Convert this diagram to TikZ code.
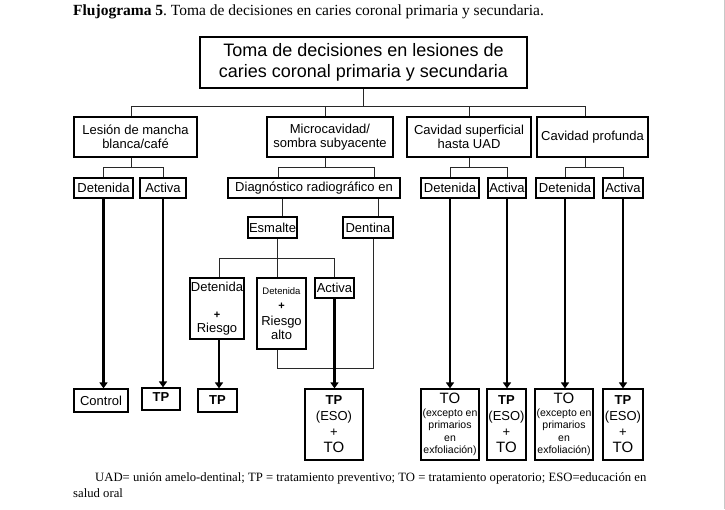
\documentclass[tikz,border=0pt]{standalone}
\usepackage{fontspec}
\setmainfont{Liberation Serif}
\setsansfont{Liberation Sans}
\usetikzlibrary{arrows.meta}
\definecolor{pagegray}{RGB}{200, 200, 200}
\definecolor{linegray}{RGB}{40, 40, 40}
\tikzset{
  caja/.style={draw, line width=1.2pt, inner sep=1pt, align=center,
    font=\sffamily\fontsize{13}{14}\selectfont},
  conector/.style={draw=linegray, line width=0.8pt},
  flecha/.style={line width=2.6pt, -{Triangle[width=8pt,length=6pt]}}
}
\frenchspacing

\begin{document}
\begin{tikzpicture}[x=1pt,y=-1pt]
  \useasboundingbox (0,0) rectangle (725,509);
  \draw[pagegray, line width=1pt] (724,0) -- (724,509);

  % caption
  \node[anchor=west, inner sep=0pt, font=\fontsize{15.5}{17}\selectfont] (leyenda) at (73,12)
    {\textbf{Flujograma 5}. Toma de decisiones en caries coronal primaria y secundaria.};

  % title
  \node[caja, line width=2.2pt, minimum width=327pt, minimum height=51pt,
    font=\sffamily\fontsize{18}{21}\selectfont] (titulo) at (363.5,62.5)
    {Toma de decisiones en lesiones de\\caries coronal primaria y secundaria};

  % first level
  \node[caja, minimum width=123pt, minimum height=40pt] (mancha) at (135.5,137) {Lesión de mancha\\blanca/café};
  \node[caja, minimum width=126pt, minimum height=40pt] (micro) at (330,137) {Microcavidad/\\sombra subyacente};
  \node[caja, minimum width=124pt, minimum height=40pt] (superf) at (469,137) {Cavidad superficial\\hasta UAD};
  \node[caja, minimum width=111pt, minimum height=40pt] (profunda) at (592.5,137) {Cavidad profunda};

  % second level
  \node[caja, minimum width=59pt, minimum height=20pt] (mDet) at (103.5,188) {Detenida};
  \node[caja, minimum width=46pt, minimum height=20pt] (mAct) at (163,188) {Activa};
  \node[caja, minimum width=172pt, minimum height=20pt] (diag) at (314,188) {Diagnóstico radiográfico en};
  \node[caja, minimum width=58pt, minimum height=20pt] (sDet) at (450,188) {Detenida};
  \node[caja, minimum width=38pt, minimum height=20pt] (sAct) at (507,188) {Activa};
  \node[caja, minimum width=58pt, minimum height=20pt] (pDet) at (565,188) {Detenida};
  \node[caja, minimum width=40pt, minimum height=20pt] (pAct) at (623,188) {Activa};

  % radiographic
  \node[caja, minimum width=49pt, minimum height=21pt] (esm) at (272.5,227.5) {Esmalte};
  \node[caja, minimum width=50pt, minimum height=21pt] (den) at (368,227.5) {Dentina};

  \node[caja, minimum width=54pt, minimum height=61pt] (dr) at (217,308.5)
    {Detenida\\[13pt]{\bfseries\fontsize{11}{12}\selectfont +}\\Riesgo};
  \node[caja, minimum width=49pt, minimum height=71pt] (dra) at (281.5,313.5)
    {{\fontsize{9.5}{10}\selectfont Detenida}\\[1pt]{\bfseries\fontsize{11}{12}\selectfont +}\\[1.5pt]Riesgo\\alto};
  \node[caja, minimum width=39pt, minimum height=20pt] (act2) at (334.5,288) {Activa};

  % results
  \node[caja, minimum width=54pt, minimum height=23pt] (ctrl) at (101,400.5) {Control};
  \node[caja, minimum width=38pt, minimum height=22pt, text depth=3.5pt] (tp1) at (161,399) {\textbf{TP}};
  \node[caja, minimum width=39pt, minimum height=23pt] (tp2) at (217.5,400.5) {\textbf{TP}};
  \node[caja, minimum width=58pt, minimum height=71pt, font=\sffamily\fontsize{13}{16}\selectfont] (tpto1) at (334,424.5)
    {\textbf{TP}\\(ESO)\\+\\{\fontsize{15}{16}\selectfont TO}};
  \node[caja, minimum width=58pt, minimum height=71pt, font=\sffamily\fontsize{10.5}{12.5}\selectfont] (to1) at (450,424.5)
    {{\fontsize{15}{16}\selectfont TO}\\(excepto en\\primarios\\en\\exfoliación)};
  \node[caja, minimum width=39pt, minimum height=71pt, font=\sffamily\fontsize{13}{16}\selectfont] (tpto2) at (506.5,424.5)
    {\textbf{TP}\\(ESO)\\+\\{\fontsize{15}{16}\selectfont TO}};
  \node[caja, minimum width=58pt, minimum height=71pt, font=\sffamily\fontsize{10.5}{12.5}\selectfont] (to2) at (564,424.5)
    {{\fontsize{15}{16}\selectfont TO}\\(excepto en\\primarios\\en\\exfoliación)};
  \node[caja, minimum width=40pt, minimum height=71pt, font=\sffamily\fontsize{13}{16}\selectfont] (tpto3) at (623,424.5)
    {\textbf{TP}\\(ESO)\\+\\{\fontsize{15}{16}\selectfont TO}};

  % bus lines
  \coordinate (b1) at (0,106);
  \coordinate (b2) at (0,167);
  \coordinate (b3) at (0,258);
  \coordinate (b4) at (0,368);
  \coordinate (mS) at ([xshift=-4.5pt]mancha.south);
  \coordinate (mN) at ([xshift=-4.5pt]mancha.north);
  \coordinate (miS) at ([xshift=-5pt]micro.south);
  \coordinate (miN) at ([xshift=-5pt]micro.north);
  \coordinate (pS) at ([xshift=-7.5pt]profunda.south);
  \coordinate (pN) at ([xshift=-7.5pt]profunda.north);
  \coordinate (d1) at ([xshift=-36pt]diag.north);
  \coordinate (d2) at ([xshift=60pt]diag.north);
  \coordinate (esmN) at ([xshift=10pt]esm.north);
  \coordinate (denN) at ([xshift=10pt]den.north);
  \coordinate (esmS) at ([xshift=4.5pt]esm.south);
  \coordinate (denS) at ([xshift=5pt]den.south);
  \coordinate (drN) at ([xshift=2pt]dr.north);
  \coordinate (drS) at ([xshift=2pt]dr.south);
  \coordinate (draN) at ([xshift=-4.5pt]dra.north);
  \coordinate (draS) at ([xshift=-4.5pt]dra.south);

  \draw[conector] (titulo.south) -- (titulo.south |- b1);
  \draw[conector] (mN) |- (pN |- b1) -- (pN);
  \draw[conector] (miN) -- (miN |- b1);
  \draw[conector] (superf.north) -- (superf.north |- b1);

  \draw[conector] (mS) -- (mS |- b2);
  \draw[conector] (mDet.north) |- (mAct.north |- b2) -- (mAct.north);
  \draw[conector] (miS) -- (miS |- b2);
  \draw[conector] (d1) |- (d2 |- b2) -- (d2);
  \draw[conector] (superf.south) -- (superf.south |- b2);
  \draw[conector] (sDet.north) |- (sAct.north |- b2) -- (sAct.north);
  \draw[conector] (pS) -- (pS |- b2);
  \draw[conector] (pDet.north) |- (pAct.north |- b2) -- (pAct.north);

  \draw[conector] (esmN |- diag.south) -- (esmN);
  \draw[conector] (denN |- diag.south) -- (denN);
  \draw[conector] (esmS) -- (esmS |- b3);
  \draw[conector] (drN) |- (act2.north |- b3) -- (act2.north);
  \draw[conector] (draN) -- (draN |- b3);
  \draw[conector] (denS) |- (draS |- b4) -- (draS);

  % thick arrows
  \draw[flecha] (mDet.south) -- (mDet.south |- ctrl.north);
  \draw[flecha] (mAct.south) -- (mAct.south |- tp1.north);
  \draw[flecha] (drS) -- (drS |- tp2.north);
  \draw[flecha] (act2.south) -- (act2.south |- tpto1.north);
  \draw[flecha] (sDet.south) -- (sDet.south |- to1.north);
  \draw[flecha] (sAct.south) -- (sAct.south |- tpto2.north);
  \draw[flecha] (pDet.south) -- (pDet.south |- to2.north);
  \draw[flecha] (pAct.south) -- (pAct.south |- tpto3.north);

  % footnote
  \node[anchor=west, inner sep=0pt, font=\fontsize{12.7}{14}\selectfont] (nota) at (95,478)
    {UAD= unión amelo-dentinal; TP = tratamiento preventivo; TO = tratamiento operatorio; ESO=educación en};
  \node[anchor=west, inner sep=0pt, font=\fontsize{12.7}{14}\selectfont] (nota2) at (73,493) {salud oral};
\end{tikzpicture}
\end{document}
